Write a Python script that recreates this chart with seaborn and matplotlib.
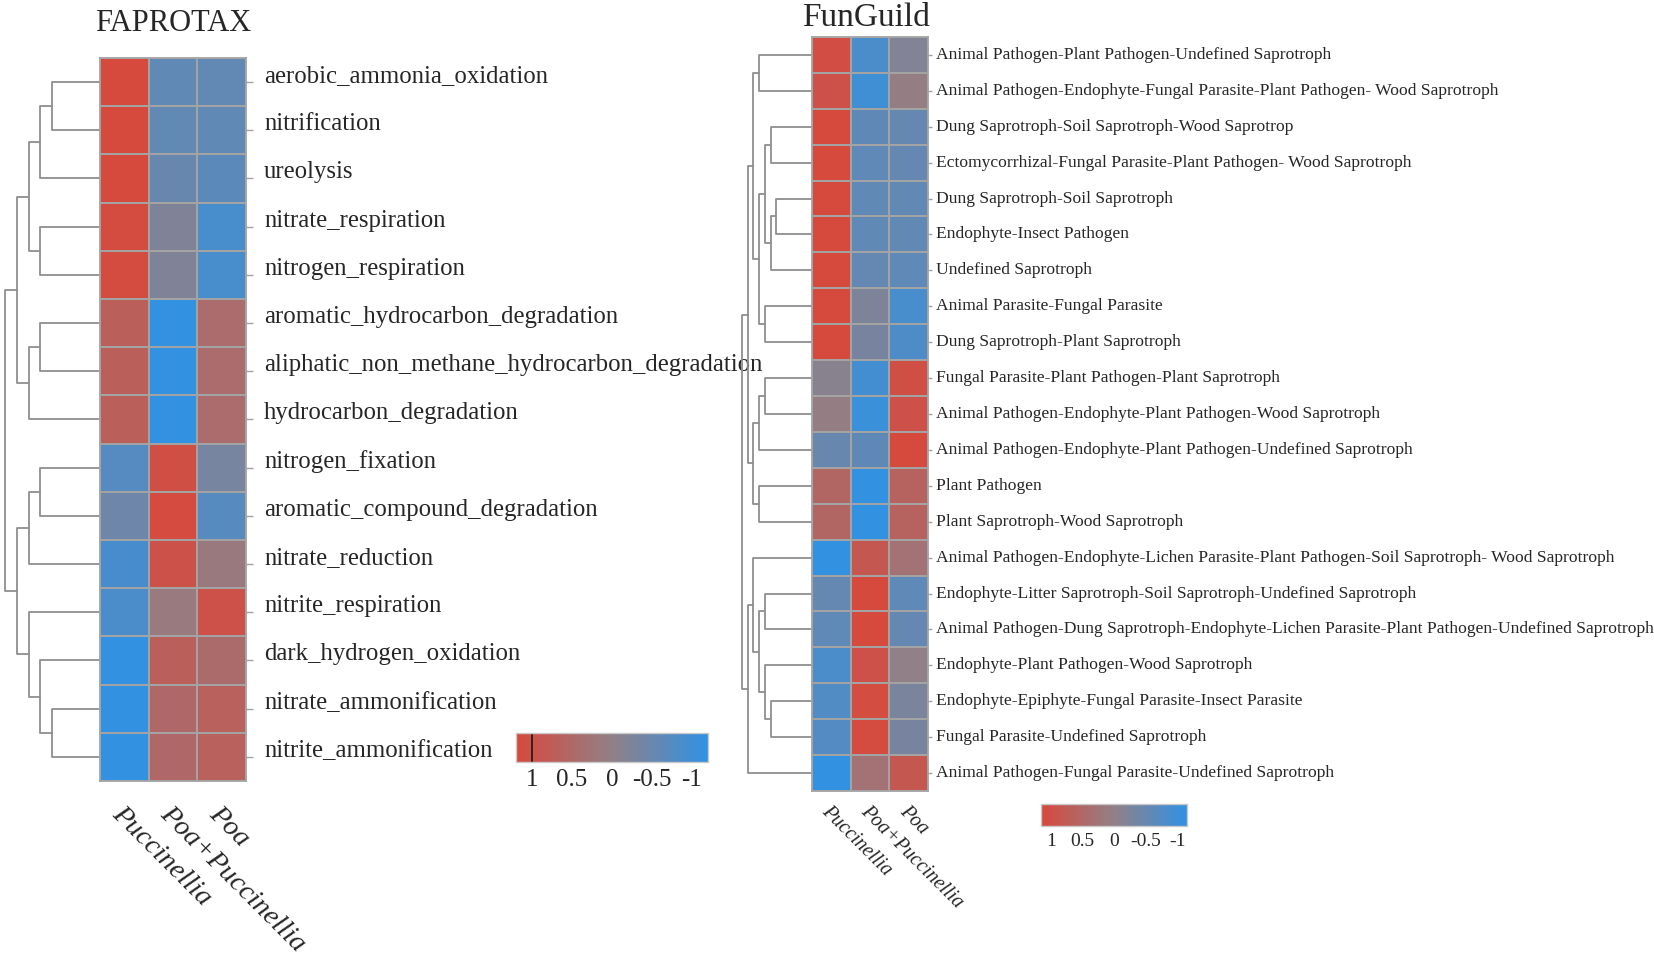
import numpy as np
import pandas as pd
import matplotlib
matplotlib.use("Agg")
import matplotlib.pyplot as plt
import seaborn as sns
from matplotlib.colors import LinearSegmentedColormap, ListedColormap, Normalize
from matplotlib.cm import ScalarMappable

grupos = ["Puccinellia", "Poa+Puccinellia", "Poa"]

# FAPROTAX
fap_funcoes = [
    "aerobic_ammonia_oxidation", "nitrification", "ureolysis",
    "nitrate_respiration", "nitrogen_respiration",
    "aromatic_hydrocarbon_degradation",
    "aliphatic_non_methane_hydrocarbon_degradation",
    "hydrocarbon_degradation", "nitrogen_fixation",
    "aromatic_compound_degradation", "nitrate_reduction",
    "nitrite_respiration", "dark_hydrogen_oxidation",
    "nitrate_ammonification", "nitrite_ammonification",
]
fap_puccinellia = [1.15, 1.15, 1.15, 1.12, 1.12, 0.70, 0.70, 0.70, -0.73, -0.43, -0.90, -0.85, -1.15, -1.15, -1.15]
fap_poa_pucc = [-0.58, -0.57, -0.50, -0.22, -0.22, -1.15, -1.15, -1.15, 1.05, 1.13, 0.98, 0.12, 0.70, 0.50, 0.50]
fap_poa = [-0.57, -0.58, -0.65, -0.88, -0.88, 0.42, 0.42, 0.42, -0.32, -0.70, 0.15, 1.00, 0.45, 0.65, 0.65]
# arvore: (filho_a, filho_b, altura)
fap_arvore = [
    (0, 1, 48), (15, 2, 60), (3, 4, 60), (16, 17, 71),
    (5, 6, 60), (19, 7, 71), (18, 20, 83),
    (8, 9, 60), (22, 10, 71), (13, 14, 48), (24, 12, 60),
    (11, 25, 71), (23, 26, 83), (21, 27, 95),
]

# FunGuild
fun_guildas = [
    "Animal Pathogen-Plant Pathogen-Undefined Saprotroph",
    "Animal Pathogen-Endophyte-Fungal Parasite-Plant Pathogen- Wood Saprotroph",
    "Dung Saprotroph-Soil Saprotroph-Wood Saprotrop",
    "Ectomycorrhizal-Fungal Parasite-Plant Pathogen- Wood Saprotroph",
    "Dung Saprotroph-Soil Saprotroph",
    "Endophyte-Insect Pathogen",
    "Undefined Saprotroph",
    "Animal Parasite-Fungal Parasite",
    "Dung Saprotroph-Plant Saprotroph",
    "Fungal Parasite-Plant Pathogen-Plant Saprotroph",
    "Animal Pathogen-Endophyte-Plant Pathogen-Wood Saprotroph",
    "Animal Pathogen-Endophyte-Plant Pathogen-Undefined Saprotroph",
    "Plant Pathogen",
    "Plant Saprotroph-Wood Saprotroph",
    "Animal Pathogen-Endophyte-Lichen Parasite-Plant Pathogen-Soil Saprotroph- Wood Saprotroph",
    "Endophyte-Litter Saprotroph-Soil Saprotroph-Undefined Saprotroph",
    "Animal Pathogen-Dung Saprotroph-Endophyte-Lichen Parasite-Plant Pathogen-Undefined Saprotroph",
    "Endophyte-Plant Pathogen-Wood Saprotroph",
    "Endophyte-Epiphyte-Fungal Parasite-Insect Parasite",
    "Fungal Parasite-Undefined Saprotroph",
    "Animal Pathogen-Fungal Parasite-Undefined Saprotroph",
]
fun_puccinellia = [1.08, 1.00, 1.15, 1.15, 1.15, 1.15, 1.15, 1.15, 1.15, -0.10, 0.05, -0.50, 0.55, 0.55, -1.15, -0.55, -0.60, -0.85, -0.78, -0.75, -1.15]
fun_poa_pucc = [-0.85, -1.00, -0.62, -0.60, -0.58, -0.58, -0.55, -0.25, -0.30, -0.95, -1.05, -0.62, -1.15, -1.15, 0.85, 1.15, 1.15, 1.00, 1.10, 1.12, 0.30]
fun_poa = [-0.18, 0.05, -0.53, -0.55, -0.57, -0.57, -0.60, -0.88, -0.82, 1.05, 1.00, 1.15, 0.62, 0.62, 0.30, -0.60, -0.55, 0.00, -0.28, -0.30, 0.85]
fun_arvore = [
    (0, 1, 55), (2, 3, 43), (4, 5, 37), (23, 6, 43), (22, 24, 49),
    (7, 8, 49), (25, 26, 55), (21, 27, 61),
    (9, 10, 49), (29, 11, 55), (12, 13, 55), (30, 31, 61), (28, 32, 67),
    (15, 16, 49), (18, 19, 43), (17, 35, 49), (34, 36, 55), (14, 37, 61),
    (38, 20, 67), (33, 39, 73),
]

df_fap = pd.DataFrame({"Puccinellia": fap_puccinellia, "Poa+Puccinellia": fap_poa_pucc, "Poa": fap_poa}, index=fap_funcoes)[grupos]
df_fun = pd.DataFrame({"Puccinellia": fun_puccinellia, "Poa+Puccinellia": fun_poa_pucc, "Poa": fun_poa}, index=fun_guildas)[grupos]

sns.set_style("white")
plt.rcParams["font.family"] = ["Liberation Serif", "DejaVu Serif"]

cmap = LinearSegmentedColormap.from_list("rb", ["#3291e1", "#918087", "#d64a3e"])
VMAX = 1.155
cinza = "#a3a3a3"


def desenhar_arvore(ax, uniao, n, hmax):
    pos = {i: (0.0, i + 0.5) for i in range(n)}
    for k, (a, b, h) in enumerate(uniao):
        ha, ya = pos[a]
        hb, yb = pos[b]
        ax.plot([ha, h, h, hb], [ya, ya, yb, yb], color="#8f8f8f", lw=1.3, clip_on=False)
        pos[n + k] = (h, (ya + yb) / 2)
    ax.set_xlim(hmax, 0)
    ax.set_ylim(n, 0)
    ax.axis("off")


def desenhar_mapa(ax, df, fs_y, fs_x, tam, pad, va_y):
    sns.heatmap(df, ax=ax, cmap=cmap, vmin=-VMAX, vmax=VMAX, cbar=False,
                linewidths=1.3, linecolor=cinza, xticklabels=True, yticklabels=True)
    ax.yaxis.tick_right()
    ax.tick_params(axis="y", length=tam, width=1, color=cinza, pad=pad, labelsize=fs_y, left=False, right=True)
    ax.tick_params(axis="x", length=tam + 2, width=1, color=cinza, pad=pad, labelsize=fs_x)
    ax.set_yticklabels(df.index, rotation=0, va=va_y, ha="left")
    ax.set_xticklabels(df.columns, rotation=-45, ha="left", va="top",
                       rotation_mode="anchor", style="italic")
    for s in ax.spines.values():
        s.set_visible(True)
        s.set_color(cinza)
        s.set_linewidth(1.3)
    ax.set_xlabel("")
    ax.set_ylabel("")


def desenhar_barra(fig, rect, fs, lim):
    cax = fig.add_axes(rect)
    listras = ListedColormap(cmap(np.linspace(0, 1, 44)))
    sm = ScalarMappable(norm=Normalize(-lim, lim), cmap=listras)
    cb = fig.colorbar(sm, cax=cax, orientation="horizontal", ticks=[1, 0.5, 0, -0.5, -1], drawedges=True)
    cb.dividers.set_color((1, 1, 1, 0.18))
    cb.dividers.set_linewidth(0.8)
    cax.invert_xaxis()
    cb.set_ticklabels(["1", "0.5", "0", "-0.5", "-1"])
    cax.tick_params(axis="x", direction="in", color="white", length=4, width=1.2,
                    labelsize=fs, top=True, bottom=True, pad=5)
    cb.outline.set_edgecolor("#c8c8c8")
    cb.outline.set_linewidth(1)
    return cax


fig = plt.figure(figsize=(16.54, 9.55), dpi=100)

# FAPROTAX
ax_d1 = fig.add_axes([0.0025, 0.1822, 0.058, 0.7571])
ax_h1 = fig.add_axes([0.0605, 0.1822, 0.0882, 0.7571])
desenhar_arvore(ax_d1, fap_arvore, len(fap_funcoes), 96)
desenhar_mapa(ax_h1, df_fap, 17.8, 20.5, 5, 8, "baseline")
cax1 = desenhar_barra(fig, [0.312, 0.2021, 0.116, 0.0304], 18, 1.2)
cax1.axvline(1.0, color="#2a1a1a", lw=1.3)
fig.text(0.1046, 0.975, "FAPROTAX", fontsize=22, ha="center", va="center")

# FunGuild
ax_d2 = fig.add_axes([0.4480, 0.1717, 0.0429, 0.7896])
ax_h2 = fig.add_axes([0.4909, 0.1717, 0.0702, 0.7896])
desenhar_arvore(ax_d2, fun_arvore, len(fun_guildas), 74)
desenhar_mapa(ax_h2, df_fun, 12.6, 14.4, 3, 3, "center")
desenhar_barra(fig, [0.6294, 0.1351, 0.0883, 0.023], 14, VMAX)
fig.text(0.5236, 0.981, "FunGuild", fontsize=24, ha="center", va="center")

fig.savefig("out.png", dpi=100)
